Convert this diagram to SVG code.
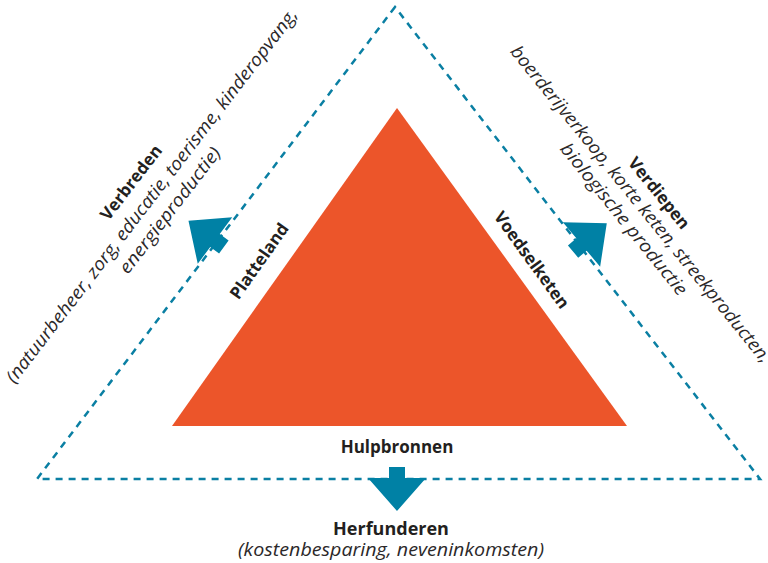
<svg xmlns="http://www.w3.org/2000/svg" xmlns:xlink="http://www.w3.org/1999/xlink" width="768" height="563" viewBox="0 0 768 563">
<style>
  .t { font-family: "Open Sans", "Noto Sans", "DejaVu Sans", sans-serif; fill: #231f20; }
  .b { font-weight: 700; font-size: 17px; }
  .i { font-style: italic; font-weight: 400; font-size: 18px; fill: #2b2829; }
  .dash { fill: none; stroke: #0a7fa3; stroke-width: 2.5; stroke-dasharray: 7 6; }
  .arr { fill: #0081a5; }
</style>
<defs>
  <path id="arrow" d="M-8,-11 H8 V0 H29 L0,33 L-29,0 H-8 Z"/>
</defs>
<rect width="768" height="563" fill="#ffffff"/>

<g id="outer-triangle">
  <path class="dash" d="M395,7 L37,479 L760,479 Z"/>
</g>

<g id="core-triangle">
  <polygon points="397,108 172,426 627,426" fill="#ec552a"/>
</g>

<g id="connectors">
  <use xlink:href="#arrow" class="arr" transform="translate(215,240.5) rotate(126.5)"/>
  <use xlink:href="#arrow" class="arr" transform="translate(581.5,244.5) rotate(-130)"/>
  <use xlink:href="#arrow" class="arr" transform="translate(397,478)"/>
</g>

<g id="platteland">
  <text class="t b" text-anchor="middle" transform="translate(264,264.5) rotate(-54.7)">Platteland</text>
</g>

<g id="voedselketen">
  <text class="t b" text-anchor="middle" transform="translate(527,263.5) rotate(54.1)">Voedselketen</text>
</g>

<g id="hulpbronnen">
  <text class="t b" x="397" y="453" text-anchor="middle">Hulpbronnen</text>
</g>

<g id="verbreden" transform="translate(154,200) rotate(-52.5)">
  <text class="t b" x="0" y="-23" text-anchor="middle">Verbreden</text>
  <text class="t i" x="2" y="1.5" text-anchor="middle" textLength="466" lengthAdjust="spacingAndGlyphs">(natuurbeheer, zorg, educatie, toerisme, kinderopvang,</text>
  <text class="t i" x="1.5" y="25" text-anchor="middle" textLength="154" lengthAdjust="spacingAndGlyphs">energieproductie)</text>
</g>

<g id="verdiepen" transform="translate(636,208) rotate(51)">
  <text class="t b" x="3" y="-21.5" text-anchor="middle">Verdiepen</text>
  <text class="t i" x="0" y="0" text-anchor="middle" textLength="402" lengthAdjust="spacingAndGlyphs">boerderijverkoop, korte keten, streekproducten,</text>
  <text class="t i" x="1" y="22.5" text-anchor="middle" textLength="190" lengthAdjust="spacingAndGlyphs">biologische productie</text>
</g>

<g id="herfunderen">
  <text class="t b" x="391" y="535" text-anchor="middle" style="font-size:18px">Herfunderen</text>
  <text class="t i" x="391" y="556" text-anchor="middle" textLength="306" lengthAdjust="spacingAndGlyphs">(kostenbesparing, neveninkomsten)</text>
</g>
</svg>
